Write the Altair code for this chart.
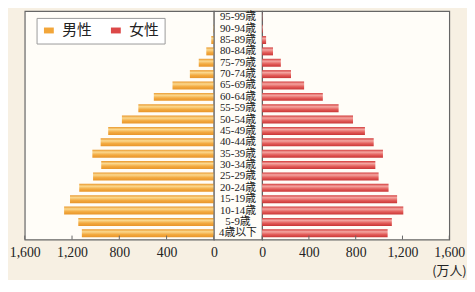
import altair as alt
import pandas as pd

ages = ["95-99歳", "90-94歳", "85-89歳", "80-84歳", "75-79歳", "70-74歳", "65-69歳",
        "60-64歳", "55-59歳", "50-54歳", "45-49歳", "40-44歳", "35-39歳", "30-34歳",
        "25-29歳", "20-24歳", "15-19歳", "10-14歳", "5-9歳", "4歳以下"]
male = [1, 5, 22, 64, 128, 203, 350, 508, 639, 778, 894, 958, 1028, 953, 1022, 1139,
        1217, 1267, 1147, 1117]
female = [2, 6, 34, 93, 160, 247, 359, 519, 654, 777, 879, 954, 1033, 968, 996, 1081,
          1154, 1207, 1109, 1073]
tick_values = [0, 400, 800, 1200, 1600]
legend_labels = ["男性", "女性"]
legend_colors = ["#f2a63a", "#dc4848"]

df = pd.DataFrame({"age": ages, "male": male, "female": female})
ticks = pd.DataFrame({"t": tick_values})
leg = pd.DataFrame({"sex": legend_labels})

H = 232
SERIF = "Liberation Serif, Noto Sans CJK JP"

male_grad = alt.Gradient(gradient="linear", x1=0, x2=0, y1=0, y2=1, stops=[
    alt.GradientStop(color="#e9982c", offset=0),
    alt.GradientStop(color="#fbd88e", offset=0.3),
    alt.GradientStop(color="#f3aa40", offset=0.65),
    alt.GradientStop(color="#e8952a", offset=1)])
female_grad = alt.Gradient(gradient="linear", x1=0, x2=0, y1=0, y2=1, stops=[
    alt.GradientStop(color="#d23c3c", offset=0),
    alt.GradientStop(color="#f4a5a0", offset=0.3),
    alt.GradientStop(color="#e35d5a", offset=0.65),
    alt.GradientStop(color="#c93535", offset=1)])

yenc = alt.Y("age:N", sort=ages, axis=None,
             scale=alt.Scale(paddingInner=0.3, paddingOuter=0.2))

axis_common = dict(values=tick_values, format=",d", grid=False, domain=False, ticks=False,
                   labelFont="Liberation Serif", labelFontSize=14, labelColor="#222",
                   labelPadding=6, labelFlush=False)

lscale = alt.Scale(domain=[0, 1600], reverse=True, nice=False)
rscale = alt.Scale(domain=[0, 1600], nice=False)

left_bars = alt.Chart(df).mark_bar(color=male_grad).encode(
    x=alt.X("male:Q", scale=lscale, axis=alt.Axis(title=None, **axis_common)),
    y=yenc)
left_ticks = alt.Chart(ticks).mark_rule(color="#666").encode(
    x=alt.X("t:Q", scale=lscale), y=alt.value(H - 4), y2=alt.value(H))
# hidden under the legend box; only provides the colour legend
left_leg = alt.Chart(leg).mark_square(size=100, opacity=1).encode(
    x=alt.value(60), y=alt.value(20),
    color=alt.Color("sex:N", scale=alt.Scale(domain=legend_labels, range=legend_colors),
                    legend=alt.Legend(title=None, orient="none", legendX=12, legendY=7,
                                      direction="horizontal", strokeColor="#999",
                                      fillColor="white", padding=5,
                                      symbolType="M-1,-0.6H1V0.6H-1Z", symbolSize=100,
                                      symbolOpacity=1, symbolStrokeWidth=0,
                                      labelFont="Noto Sans CJK JP", labelFontSize=15,
                                      labelColor="#222", columnPadding=16, labelOffset=6)))
left = alt.layer(left_bars, left_ticks, left_leg).properties(width=192, height=H)

middle = alt.Chart(df).mark_text(font=SERIF, fontSize=11, color="#1a1a1a").encode(
    y=yenc, text="age:N", x=alt.value(24.5)).properties(width=49, height=H)

right_bars = alt.Chart(df).mark_bar(color=female_grad).encode(
    x=alt.X("female:Q", scale=rscale,
            axis=alt.Axis(title="(万人)", titleFont="Noto Sans CJK JP", titleFontSize=13,
                          titleFontWeight="normal", titleColor="#222", titleAlign="right",
                          titleAnchor="end", titleX=207, titleY=35,
                          titleBaseline="alphabetic", **axis_common)),
    y=yenc)
right_ticks = alt.Chart(ticks).mark_rule(color="#666").encode(
    x=alt.X("t:Q", scale=rscale), y=alt.value(H - 4), y2=alt.value(H))
right = alt.layer(right_bars, right_ticks).properties(width=190, height=H)

chart = alt.hconcat(left, middle, right, spacing=0, bounds="flush").resolve_scale(
    x="independent", y="shared", color="shared"
).properties(
    background="#f7f0e3",
    autosize=alt.AutoSizeParams(type="pad"),
    padding={"left": 0, "top": 0, "right": 0, "bottom": 0},
).configure_view(stroke="#666", strokeWidth=1.2, fill="#fffdf8")

chart.save("out.html", embed_options={"renderer": "svg", "actions": False})
